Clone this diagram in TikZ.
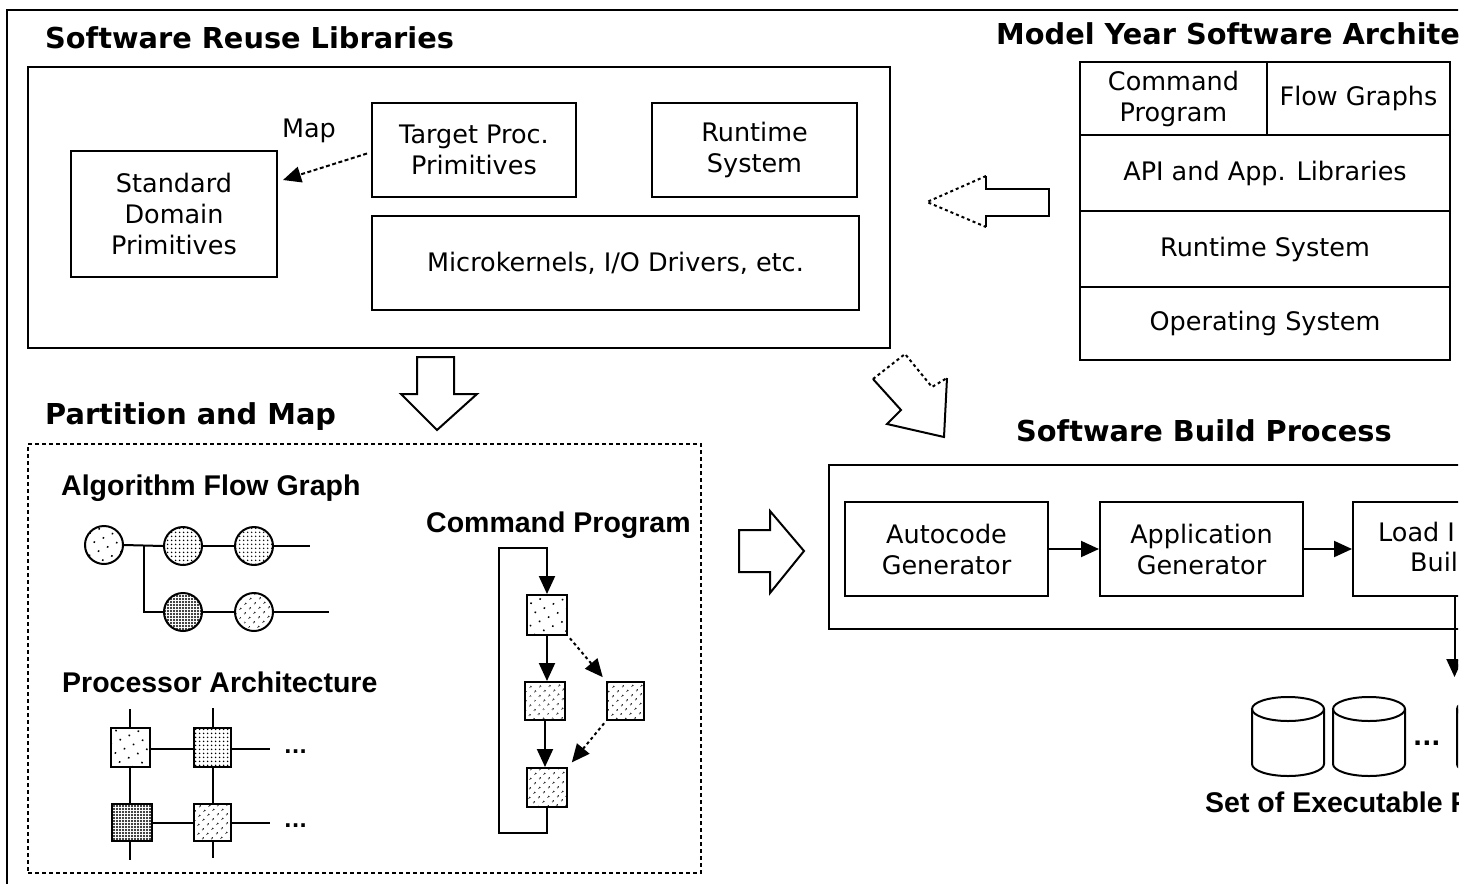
\documentclass[tikz,border=0pt]{standalone}
\usepackage{fontspec}
\setmainfont{DejaVu Sans}
\newfontfamily\narrowbold{Liberation Sans}
\usetikzlibrary{arrows.meta,patterns.meta,calc}

\newcommand\plaintext{\fontsize{25.5}{31}\selectfont}
\newcommand\headtext{\fontsize{28.8}{34}\selectfont\bfseries}
\newcommand\subhead{\narrowbold\fontsize{28.5}{33}\selectfont\bfseries}

\tikzset{
  dims/.style 2 args={minimum width=#1pt, minimum height=#2pt},
  outline/.style={draw, line width=2pt, rectangle, inner sep=0pt, align=center, font=\plaintext},
  cell/.style={outline, line width=2.4pt},
  sectitle/.style={anchor=base west, inner sep=0pt, font=\headtext},
  subtitle/.style={anchor=base west, inner sep=0pt, font=\subhead},
  label/.style={anchor=base west, inner sep=0pt, font=\plaintext},
  wire/.style={line width=2pt},
  arrowed/.style={-{Triangle[length=18pt,width=16pt]}},
  dashwire/.style={line width=2pt, dash pattern=on 4pt off 3pt},
  dotwire/.style={line width=2pt, dash pattern=on 3pt off 3pt},
  sparse/.style={pattern={Dots[distance=10pt,radius=1.1pt,angle=25]}},
  medium/.style={pattern={Dots[distance=6.5pt,radius=1pt,angle=45]}},
  dense/.style={pattern={Dots[distance=4pt,radius=0.95pt]}},
  dark/.style={pattern={Dots[distance=3pt,radius=1.1pt]}},
  blob/.style={circle, draw, line width=2pt, minimum size=38pt, inner sep=0pt},
  proc/.style={rectangle, draw, line width=2pt, inner sep=0pt},
}

\begin{document}
\begin{tikzpicture}[x=1pt, y=-1pt, line cap=butt, line join=miter]
\useasboundingbox (0,0) rectangle (1478,884);
\fill[white] (0,0) rectangle (1478,884);
\clip (0,0) rectangle (1458,884);

% outer frame
\draw[wire] (7,884) -- (7,10) -- (1470,10);

% ---------------- Software reuse libraries ----------------
\node[sectitle] (reusetitle) at (45,48) {Software Reuse Libraries};
\node[outline, dims={862}{281}] (reuse) at (459,207.5) {};
\node[outline, dims={206}{126}] (std) at (174,214) {Standard\\Domain\\Primitives};
\node[outline, dims={204}{94}] (target) at (474,149.5) {Target Proc.\\Primitives};
\node[outline, dims={205}{94}] (rtbox) at (754.5,149.5) {Runtime\\System};
\node[outline, dims={487}{94}] (micro) at (615.5,263) {Microkernels, I/O Drivers, etc.};
\node[font=\plaintext, inner sep=0pt] (maplabel) at (309,131) {Map};
\draw[wire, dash pattern=on 4pt off 2.5pt, arrowed]
  ([shift={(-4,4)}]target.west) -- ([shift={(5,-34)}]std.east);

% ---------------- Model year software architecture ----------------
\node[sectitle] (mytitle) at (996,44) {Model Year Software Archite};
\node[cell, dims={187}{73}] (cmdprog) at (1173.5,98.5) {Command\\Program};
\node[cell, dims={183}{73}] (flowg) at (1358.5,98.5) {Flow Graphs};
\node[cell, dims={370}{76}] (api) at (1265,173) {API and App. Libraries};
\node[cell, dims={370}{76}] (rts) at (1265,249) {Runtime System};
\node[cell, dims={370}{73}] (os) at (1265,323.5) {Operating System};

% hollow arrow: architecture feeds the libraries
\draw[dotwire] (986,176) -- (927,202) -- (986,227);
\draw[wire] (986,176) -- (986,189) -- (1049,189) -- (1049,216) -- (986,216) -- (986,227);

% hollow arrow: libraries down to partitioning
\draw[wire] (417,357) -- (454,357) -- (454,394) -- (477,394) -- (437,430)
  -- (401,394) -- (417,394) -- cycle;

% hollow arrow: libraries to the build process
\draw[dotwire] (873,379) -- (905,354) -- (932,387) -- (947,378);
\draw[wire] (947,378) -- (944,437) -- (887,424) -- (901,410) -- (873,379);

% ---------------- Partition and map ----------------
\node[sectitle] (pmtitle) at (45,424) {Partition and Map};
\node[draw, dashwire, rectangle, dims={673}{429}] (partition) at (364.5,658.5) {};

% algorithm flow graph
\node[subtitle] (afgtitle) at (61,495) {Algorithm Flow Graph};
\node[blob, sparse] (c1) at (104,545) {};
\node[blob, dense]  (c2) at (183,546) {};
\node[blob, dense]  (c3) at (254,546) {};
\node[blob, dark]   (c4) at (183,612) {};
\node[blob, medium] (c5) at (254,612) {};
\coordinate (branch) at (144,545);
\coordinate (out1) at (310,546);
\coordinate (out2) at (329,612);
\draw[wire] (c1.east) -- (c2.west);
\draw[wire] (c2.east) -- (c3.west);
\draw[wire] (c3.east) -- (out1);
\draw[wire] (branch) -- (branch |- c4) -- (c4.west);
\draw[wire] (c4.east) -- (c5.west);
\draw[wire] (c5.east) -- (out2);

% processor architecture
\node[subtitle] (patitle) at (62,692) {Processor Architecture};
\node[proc, sparse, dims={39}{39}] (p1) at (130,747.5) {};
\node[proc, dense,  dims={37}{39}] (p2) at (212.5,747.5) {};
\node[proc, dark,   dims={40}{37}] (p3) at (132,822.5) {};
\node[proc, medium, dims={37}{37}] (p4) at (212.5,822.5) {};
\coordinate (p1up) at (130,709);
\coordinate (p2up) at (212.5,708);
\coordinate (p3dn) at (130,860);
\coordinate (p4dn) at (212.5,858);
\coordinate (p2out) at (270,749);
\coordinate (p4out) at (270,823);
\draw[wire] (p1up) -- (p1.north);
\draw[wire] (p2up) -- (p2.north);
\draw[wire] (p1.south) -- (p1.south |- p3.north);
\draw[wire] (p2.south) -- (p4.north);
\draw[wire] (p3.south -| p1up) -- (p3dn);
\draw[wire] (p4.south) -- (p4dn);
\draw[wire] (p1.east |- p2out) -- (p2.west |- p2out);
\draw[wire] (p2.east |- p2out) -- (p2out);
\draw[wire] (p3.east |- p4out) -- (p4.west |- p4out);
\draw[wire] (p4.east |- p4out) -- (p4out);
\node[anchor=base west, inner sep=0pt, font=\fontsize{20}{20}\selectfont\bfseries] (more1) at (284,753) {...};
\node[anchor=base west, inner sep=0pt, font=\fontsize{20}{20}\selectfont\bfseries] (more2) at (284,827) {...};

% command program
\node[subtitle] (cptitle) at (426,532) {Command Program};
\node[proc, sparse, dims={40}{40}] (qa) at (547,615) {};
\node[proc, medium, dims={40}{38}] (qb) at (545,701) {};
\node[proc, medium, dims={37}{38}] (qc) at (625.5,701) {};
\node[proc, medium, dims={40}{39}] (qd) at (547,787.5) {};
\draw[wire, arrowed] (qd.south) -- (547,833) -- (499,833) -- (499,548) -- (547,548) -- (qa.north);
\draw[wire, arrowed] (qa.south) -- (qa.south |- qb.north);
\draw[wire, arrowed] (qb.south) -- (qb.south |- qd.north);
\draw[dotwire, arrowed, shorten <=3pt, shorten >=5pt] (qa.south east) -- (qc.north west);
\draw[dotwire, arrowed, shorten <=3pt, shorten >=6pt] (qc.south west) -- (qd.north east);

% hollow arrow: partitioning feeds the build
\draw[wire] (739,530) -- (770,530) -- (770,511) -- (804,551) -- (770,593)
  -- (770,572) -- (739,572) -- cycle;

% ---------------- Software build process ----------------
\node[sectitle] (sbtitle) at (1016,441) {Software Build Process};
\node[outline, dims={771}{164}] (build) at (1214.5,547) {};
\node[outline, dims={203}{94}] (auto) at (946.5,549) {Autocode\\Generator};
\node[outline, dims={203}{94}] (appgen) at (1201.5,549) {Application\\Generator};
\node[outline, dims={203}{94}] (load) at (1454.5,549) {};
\node[label] (loadtxt1) at (1378,541) {Load I};
\node[label] (loadtxt2) at (1410,571) {Buil};
\draw[wire, arrowed] (auto.east) -- (appgen.west);
\draw[wire, arrowed] (appgen.east) -- (load.west);
\coordinate (exe) at (1454.5,677);
\draw[wire, arrowed] (load.south) -- (exe);

% executable images
\foreach \cx in {1288,1369,1493} {
  \draw[wire] (\cx-36,709) -- (\cx-36,764)
    arc[start angle=180, end angle=360, x radius=36pt, y radius=12pt] -- (\cx+36,709);
  \draw[wire] (\cx,709) ellipse[x radius=36pt, y radius=12pt];
}
\node[anchor=base west, inner sep=0pt, font=\fontsize{24}{24}\selectfont\bfseries] (moreexe) at (1413,745) {...};
\node[subtitle] (exetitle) at (1205,812) {Set of Executable P};
\end{tikzpicture}
\end{document}
